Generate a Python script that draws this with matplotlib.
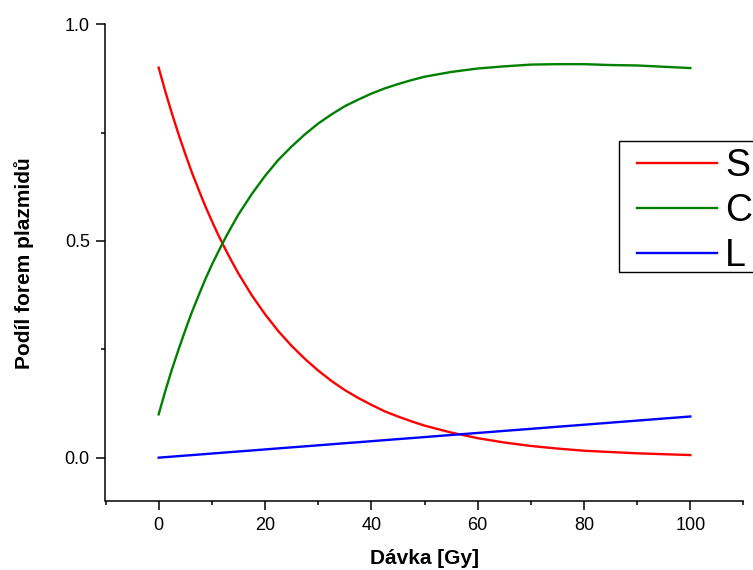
import matplotlib
matplotlib.use("Agg")
import matplotlib.pyplot as plt
from matplotlib.ticker import MultipleLocator
from matplotlib.patches import Rectangle

plt.rcParams['font.family'] = ['Liberation Sans', 'DejaVu Sans']

# Data
dose = [0, 1.25, 2.5, 3.75, 5, 6.25, 7.5, 8.75, 10, 11.25, 12.5, 13.75, 15, 17.5,
        20, 22.5, 25, 27.5, 30, 32.5, 35, 37.5, 40, 42.5, 45, 47.5,
        50, 55, 60, 65, 70, 75, 80, 85, 90, 95, 100]
S_vals = [0.900, 0.845, 0.794, 0.746, 0.701, 0.658, 0.619, 0.581, 0.546, 0.513,
          0.482, 0.453, 0.425, 0.375, 0.331, 0.292, 0.258, 0.228, 0.201, 0.177,
          0.156, 0.138, 0.122, 0.107, 0.095, 0.084,
          0.074, 0.058, 0.045, 0.035, 0.027, 0.021, 0.016, 0.013, 0.010, 0.008, 0.006]
C_vals = [0.100, 0.154, 0.204, 0.250, 0.294, 0.336, 0.374, 0.411, 0.445, 0.476,
          0.506, 0.534, 0.561, 0.608, 0.650, 0.687, 0.718, 0.746, 0.771, 0.792,
          0.811, 0.826, 0.840, 0.852, 0.862, 0.871,
          0.879, 0.890, 0.898, 0.903, 0.907, 0.908, 0.908, 0.906, 0.905, 0.902, 0.899]
L_vals = [0.0, 0.0012, 0.0024, 0.0036, 0.0048, 0.0059, 0.0071, 0.0083, 0.0095,
          0.0107, 0.0119, 0.0131, 0.0143, 0.0166, 0.019, 0.0214, 0.0238, 0.0261,
          0.0285, 0.0309, 0.0333, 0.0356, 0.038, 0.0404, 0.0428, 0.0451,
          0.0475, 0.0523, 0.057, 0.0618, 0.0665, 0.0713, 0.076, 0.0808, 0.0855,
          0.0903, 0.095]
labels = ["S", "C", "L"]
colors = ["#FF0000", "#008000", "#0000FF"]
xticks = [0, 20, 40, 60, 80, 100]
yticks = [0.0, 0.5, 1.0]
yticklabels = ["0.0", "0.5", "1.0"]

W, H = 753, 570
fig = plt.figure(figsize=(W / 100, H / 100), dpi=100)
ax = fig.add_axes([105.5 / W, (H - 501) / H, (743.5 - 105.5) / W, (501 - 24.3) / H])

for vals, lab, col in zip([S_vals, C_vals, L_vals], labels, colors):
    ax.plot(dose, vals, color=col, lw=1.7, label=lab)

ax.set_xlim(-10, 110)
ax.set_ylim(-0.1, 1.0)
ax.xaxis.set_minor_locator(MultipleLocator(10))
ax.yaxis.set_minor_locator(MultipleLocator(0.25))
ax.set_xticks(xticks)
ax.set_yticks(yticks)
ax.set_yticklabels(yticklabels)

for s in ["top", "right"]:
    ax.spines[s].set_visible(False)
for s in ["left", "bottom"]:
    ax.spines[s].set_linewidth(1.1)

ax.tick_params(which="major", direction="out", length=6.3, width=1.1,
               labelsize=13, pad=5)
ax.tick_params(which="minor", direction="out", length=3.2, width=1.1)

ax.set_xlabel("Dávka [Gy]", fontsize=15, fontweight="bold")
ax.set_ylabel("Podíl forem plazmidů", fontsize=15, fontweight="bold")
ax.xaxis.set_label_coords(0.5, -(559 - 501) / (501 - 24.3), transform=ax.transAxes)
ax.xaxis.label.set_va("center")
ax.yaxis.set_label_coords(-(105.5 - 24) / (743.5 - 105.5), 0.5, transform=ax.transAxes)
ax.yaxis.label.set_va("center")

# legend frame (clipped at the right figure edge, as in the reference)
frame = Rectangle((619 / W, 1 - 272 / H), 0.2, (272 - 140.7) / H,
                  transform=fig.transFigure, facecolor="white", edgecolor="black",
                  lw=1.0, zorder=4)
fig.add_artist(frame)

leg = fig.legend(loc="upper left", bbox_to_anchor=(637 / W, 1 - 148.5 / H),
                 fontsize=27, frameon=False, handlelength=2.13, handletextpad=0.22,
                 labelspacing=0.23, borderpad=0, borderaxespad=0)
leg.set_zorder(5)

fig.savefig("out.png", dpi=100)
